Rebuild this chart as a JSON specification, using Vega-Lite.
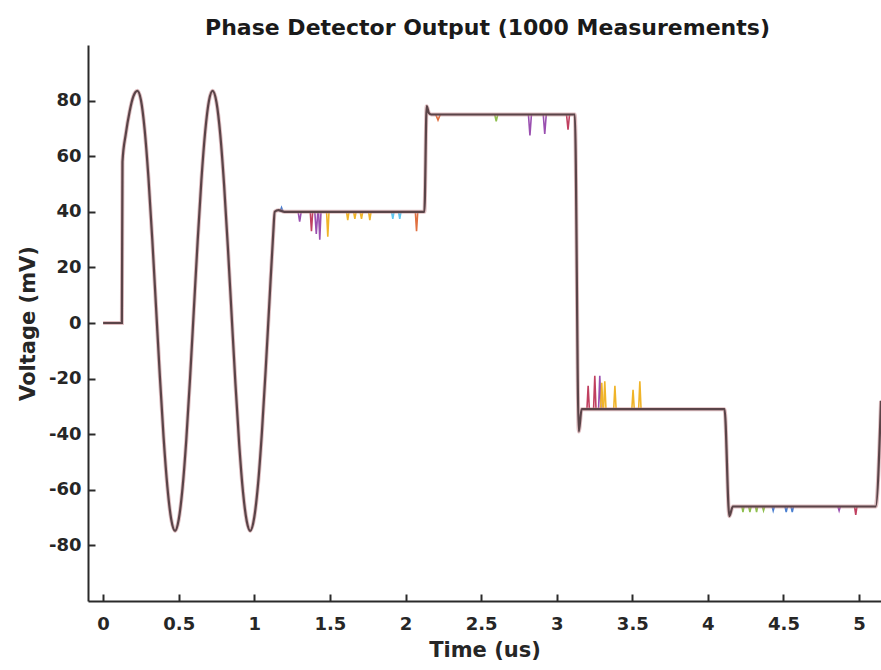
{
  "$schema": "https://vega.github.io/schema/vega-lite/v6.json",
  "width": 793,
  "height": 556,
  "autosize": {"type": "none"},
  "padding": {"left": 88, "top": 45, "right": 0, "bottom": 69},
  "background": "white",
  "title": {"text": "Phase Detector Output (1000 Measurements)", "font": "DejaVu Sans", "fontSize": 22, "fontWeight": "bold", "color": "#1a1a1a", "anchor": "middle", "offset": 5, "dx": 3},
  "config": {"view": {"stroke": null}},
  "data": {"values": [
    {"trace": "mean", "g": "main", "t": 0, "v": 0},
    {"trace": "mean", "g": "main", "t": 0.124, "v": 0},
    {"trace": "mean", "g": "main", "t": 0.128, "v": 58},
    {"trace": "mean", "g": "main", "t": 0.15, "v": 68},
    {"trace": "mean", "g": "main", "t": 0.175, "v": 76},
    {"trace": "mean", "g": "main", "t": 0.2, "v": 81.5},
    {"trace": "mean", "g": "main", "t": 0.227, "v": 83.5},
    {"trace": "mean", "g": "main", "t": 0.25, "v": 80.2},
    {"trace": "mean", "g": "main", "t": 0.275, "v": 69.4},
    {"trace": "mean", "g": "main", "t": 0.3, "v": 52.1},
    {"trace": "mean", "g": "main", "t": 0.325, "v": 30.2},
    {"trace": "mean", "g": "main", "t": 0.35, "v": 5.7},
    {"trace": "mean", "g": "main", "t": 0.375, "v": -18.9},
    {"trace": "mean", "g": "main", "t": 0.4, "v": -41.2},
    {"trace": "mean", "g": "main", "t": 0.425, "v": -58.9},
    {"trace": "mean", "g": "main", "t": 0.45, "v": -70.5},
    {"trace": "mean", "g": "main", "t": 0.476, "v": -74.8},
    {"trace": "mean", "g": "main", "t": 0.5, "v": -70.7},
    {"trace": "mean", "g": "main", "t": 0.525, "v": -59.5},
    {"trace": "mean", "g": "main", "t": 0.55, "v": -42.1},
    {"trace": "mean", "g": "main", "t": 0.575, "v": -19.9},
    {"trace": "mean", "g": "main", "t": 0.6, "v": 4.7},
    {"trace": "mean", "g": "main", "t": 0.625, "v": 29.2},
    {"trace": "mean", "g": "main", "t": 0.65, "v": 51.4},
    {"trace": "mean", "g": "main", "t": 0.675, "v": 68.8},
    {"trace": "mean", "g": "main", "t": 0.7, "v": 79.9},
    {"trace": "mean", "g": "main", "t": 0.724, "v": 83.5},
    {"trace": "mean", "g": "main", "t": 0.75, "v": 79.3},
    {"trace": "mean", "g": "main", "t": 0.775, "v": 67.7},
    {"trace": "mean", "g": "main", "t": 0.8, "v": 49.8},
    {"trace": "mean", "g": "main", "t": 0.825, "v": 27.4},
    {"trace": "mean", "g": "main", "t": 0.85, "v": 2.8},
    {"trace": "mean", "g": "main", "t": 0.875, "v": -21.7},
    {"trace": "mean", "g": "main", "t": 0.9, "v": -43.6},
    {"trace": "mean", "g": "main", "t": 0.925, "v": -60.7},
    {"trace": "mean", "g": "main", "t": 0.95, "v": -71.3},
    {"trace": "mean", "g": "main", "t": 0.973, "v": -74.8},
    {"trace": "mean", "g": "main", "t": 1.0, "v": -69.8},
    {"trace": "mean", "g": "main", "t": 1.025, "v": -57.8},
    {"trace": "mean", "g": "main", "t": 1.05, "v": -39.5},
    {"trace": "mean", "g": "main", "t": 1.075, "v": -17.0},
    {"trace": "mean", "g": "main", "t": 1.1, "v": 7.7},
    {"trace": "mean", "g": "main", "t": 1.125, "v": 32.1},
    {"trace": "mean", "g": "main", "t": 1.135, "v": 40},
    {"trace": "mean", "g": "main", "t": 1.16, "v": 40.6},
    {"trace": "mean", "g": "main", "t": 1.2, "v": 40},
    {"trace": "mean", "g": "main", "t": 2.125, "v": 40},
    {"trace": "mean", "g": "main", "t": 2.14, "v": 78},
    {"trace": "mean", "g": "main", "t": 2.155, "v": 75.5},
    {"trace": "mean", "g": "main", "t": 2.17, "v": 75},
    {"trace": "mean", "g": "main", "t": 3.12, "v": 75},
    {"trace": "mean", "g": "main", "t": 3.146, "v": -39},
    {"trace": "mean", "g": "main", "t": 3.165, "v": -31},
    {"trace": "mean", "g": "main", "t": 4.11, "v": -31},
    {"trace": "mean", "g": "main", "t": 4.142, "v": -69.5},
    {"trace": "mean", "g": "main", "t": 4.165, "v": -66},
    {"trace": "mean", "g": "main", "t": 5.11, "v": -66},
    {"trace": "mean", "g": "main", "t": 5.145, "v": -28},

    {"trace": "run1", "g": "s0", "t": 1.17, "v": 40},
    {"trace": "run1", "g": "s0", "t": 1.18, "v": 41.5},
    {"trace": "run1", "g": "s0", "t": 1.19, "v": 40},
    {"trace": "run4", "g": "s1", "t": 1.29, "v": 40},
    {"trace": "run4", "g": "s1", "t": 1.3, "v": 36.5},
    {"trace": "run4", "g": "s1", "t": 1.31, "v": 40},
    {"trace": "run7", "g": "s2", "t": 1.37, "v": 40},
    {"trace": "run7", "g": "s2", "t": 1.378, "v": 33},
    {"trace": "run7", "g": "s2", "t": 1.386, "v": 40},
    {"trace": "run4", "g": "s3", "t": 1.4, "v": 40},
    {"trace": "run4", "g": "s3", "t": 1.41, "v": 32},
    {"trace": "run4", "g": "s3", "t": 1.42, "v": 40},
    {"trace": "run4", "g": "s4", "t": 1.425, "v": 40},
    {"trace": "run4", "g": "s4", "t": 1.433, "v": 30},
    {"trace": "run4", "g": "s4", "t": 1.441, "v": 40},
    {"trace": "run3", "g": "s5", "t": 1.478, "v": 40},
    {"trace": "run3", "g": "s5", "t": 1.486, "v": 31},
    {"trace": "run3", "g": "s5", "t": 1.494, "v": 40},
    {"trace": "run3", "g": "s6", "t": 1.61, "v": 40},
    {"trace": "run3", "g": "s6", "t": 1.618, "v": 37},
    {"trace": "run3", "g": "s6", "t": 1.626, "v": 40},
    {"trace": "run3", "g": "s7", "t": 1.657, "v": 40},
    {"trace": "run3", "g": "s7", "t": 1.665, "v": 37.5},
    {"trace": "run3", "g": "s7", "t": 1.673, "v": 40},
    {"trace": "run3", "g": "s8", "t": 1.7, "v": 40},
    {"trace": "run3", "g": "s8", "t": 1.709, "v": 37.5},
    {"trace": "run3", "g": "s8", "t": 1.717, "v": 40},
    {"trace": "run3", "g": "s9", "t": 1.756, "v": 40},
    {"trace": "run3", "g": "s9", "t": 1.764, "v": 37},
    {"trace": "run3", "g": "s9", "t": 1.772, "v": 40},
    {"trace": "run6", "g": "s10", "t": 1.908, "v": 40},
    {"trace": "run6", "g": "s10", "t": 1.916, "v": 37.5},
    {"trace": "run6", "g": "s10", "t": 1.924, "v": 40},
    {"trace": "run6", "g": "s11", "t": 1.954, "v": 40},
    {"trace": "run6", "g": "s11", "t": 1.962, "v": 37.5},
    {"trace": "run6", "g": "s11", "t": 1.97, "v": 40},
    {"trace": "run2", "g": "s12", "t": 2.065, "v": 40},
    {"trace": "run2", "g": "s12", "t": 2.073, "v": 33},
    {"trace": "run2", "g": "s12", "t": 2.081, "v": 40},
    {"trace": "run2", "g": "s13", "t": 2.2, "v": 75},
    {"trace": "run2", "g": "s13", "t": 2.215, "v": 73},
    {"trace": "run2", "g": "s13", "t": 2.23, "v": 75},
    {"trace": "run5", "g": "s14", "t": 2.59, "v": 75},
    {"trace": "run5", "g": "s14", "t": 2.6, "v": 72.5},
    {"trace": "run5", "g": "s14", "t": 2.61, "v": 75},
    {"trace": "run4", "g": "s15", "t": 2.813, "v": 75},
    {"trace": "run4", "g": "s15", "t": 2.823, "v": 67.5},
    {"trace": "run4", "g": "s15", "t": 2.833, "v": 75},
    {"trace": "run4", "g": "s16", "t": 2.911, "v": 75},
    {"trace": "run4", "g": "s16", "t": 2.921, "v": 68},
    {"trace": "run4", "g": "s16", "t": 2.931, "v": 75},
    {"trace": "run7", "g": "s17", "t": 3.065, "v": 75},
    {"trace": "run7", "g": "s17", "t": 3.075, "v": 69.5},
    {"trace": "run7", "g": "s17", "t": 3.085, "v": 75},
    {"trace": "run7", "g": "s18", "t": 3.2, "v": -31},
    {"trace": "run7", "g": "s18", "t": 3.208, "v": -22.6},
    {"trace": "run7", "g": "s18", "t": 3.216, "v": -31},
    {"trace": "run7", "g": "s19", "t": 3.244, "v": -31},
    {"trace": "run7", "g": "s19", "t": 3.252, "v": -19},
    {"trace": "run7", "g": "s19", "t": 3.26, "v": -31},
    {"trace": "run4", "g": "s20", "t": 3.277, "v": -31},
    {"trace": "run4", "g": "s20", "t": 3.285, "v": -19},
    {"trace": "run4", "g": "s20", "t": 3.293, "v": -31},
    {"trace": "run3", "g": "s21", "t": 3.29, "v": -31},
    {"trace": "run3", "g": "s21", "t": 3.298, "v": -21.5},
    {"trace": "run3", "g": "s21", "t": 3.306, "v": -31},
    {"trace": "run3", "g": "s22", "t": 3.31, "v": -31},
    {"trace": "run3", "g": "s22", "t": 3.318, "v": -21},
    {"trace": "run3", "g": "s22", "t": 3.326, "v": -31},
    {"trace": "run3", "g": "s23", "t": 3.377, "v": -31},
    {"trace": "run3", "g": "s23", "t": 3.385, "v": -22.6},
    {"trace": "run3", "g": "s23", "t": 3.393, "v": -31},
    {"trace": "run3", "g": "s24", "t": 3.497, "v": -31},
    {"trace": "run3", "g": "s24", "t": 3.505, "v": -24},
    {"trace": "run3", "g": "s24", "t": 3.513, "v": -31},
    {"trace": "run3", "g": "s25", "t": 3.542, "v": -31},
    {"trace": "run3", "g": "s25", "t": 3.55, "v": -21},
    {"trace": "run3", "g": "s25", "t": 3.558, "v": -31},
    {"trace": "run5", "g": "s26", "t": 4.225, "v": -66},
    {"trace": "run5", "g": "s26", "t": 4.232, "v": -68},
    {"trace": "run5", "g": "s26", "t": 4.239, "v": -66},
    {"trace": "run5", "g": "s27", "t": 4.27, "v": -66},
    {"trace": "run5", "g": "s27", "t": 4.278, "v": -68},
    {"trace": "run5", "g": "s27", "t": 4.286, "v": -66},
    {"trace": "run5", "g": "s28", "t": 4.315, "v": -66},
    {"trace": "run5", "g": "s28", "t": 4.322, "v": -68},
    {"trace": "run5", "g": "s28", "t": 4.329, "v": -66},
    {"trace": "run5", "g": "s29", "t": 4.36, "v": -66},
    {"trace": "run5", "g": "s29", "t": 4.368, "v": -67.5},
    {"trace": "run5", "g": "s29", "t": 4.376, "v": -66},
    {"trace": "run1", "g": "s30", "t": 4.425, "v": -66},
    {"trace": "run1", "g": "s30", "t": 4.432, "v": -67.5},
    {"trace": "run1", "g": "s30", "t": 4.44, "v": -66},
    {"trace": "run1", "g": "s31", "t": 4.51, "v": -66},
    {"trace": "run1", "g": "s31", "t": 4.518, "v": -68},
    {"trace": "run1", "g": "s31", "t": 4.526, "v": -66},
    {"trace": "run1", "g": "s32", "t": 4.55, "v": -66},
    {"trace": "run1", "g": "s32", "t": 4.558, "v": -68},
    {"trace": "run1", "g": "s32", "t": 4.566, "v": -66},
    {"trace": "run4", "g": "s33", "t": 4.86, "v": -66},
    {"trace": "run4", "g": "s33", "t": 4.868, "v": -67.5},
    {"trace": "run4", "g": "s33", "t": 4.876, "v": -66},
    {"trace": "run7", "g": "s34", "t": 4.97, "v": -66},
    {"trace": "run7", "g": "s34", "t": 4.978, "v": -69},
    {"trace": "run7", "g": "s34", "t": 4.986, "v": -66}
  ]},
  "encoding": {
    "x": {"field": "t", "type": "quantitative",
      "scale": {"domain": [-0.1, 5.145], "nice": false, "zero": false},
      "axis": {"title": "Time (us)", "values": [0, 0.5, 1, 1.5, 2, 2.5, 3, 3.5, 4, 4.5, 5], "format": ".1~f",
        "grid": false, "tickSize": -7, "tickWidth": 2, "tickColor": "#2a2a2a", "domainColor": "#2a2a2a", "domainWidth": 2,
        "labelFont": "DejaVu Sans", "labelFontWeight": "bold", "labelFontSize": 18, "labelColor": "#262626", "labelPadding": 21,
        "labelFlush": false, "labelOverlap": false,
        "titleFont": "DejaVu Sans", "titleFontWeight": "bold", "titleFontSize": 21, "titleColor": "#262626", "titlePadding": 6}},
    "y": {"field": "v", "type": "quantitative",
      "scale": {"domain": [-100, 100], "nice": false, "zero": false},
      "axis": {"title": "Voltage (mV)", "values": [-80, -60, -40, -20, 0, 20, 40, 60, 80], "labelExpr": "'' + datum.value",
        "grid": false, "tickSize": -7, "tickWidth": 2, "tickColor": "#2a2a2a", "domainColor": "#2a2a2a", "domainWidth": 2,
        "labelFont": "DejaVu Sans", "labelFontWeight": "bold", "labelFontSize": 18, "labelColor": "#262626", "labelPadding": 14,
        "labelFlush": false, "labelOverlap": false,
        "titleFont": "DejaVu Sans", "titleFontWeight": "bold", "titleFontSize": 21, "titleColor": "#262626", "titlePadding": 10}}
  },
  "layer": [
    {"transform": [{"filter": "datum.trace != 'mean'"}],
     "mark": {"type": "line", "strokeWidth": 1.6, "clip": true},
     "encoding": {
       "color": {"field": "trace", "type": "nominal", "legend": null,
         "scale": {"domain": ["run1", "run2", "run3", "run4", "run5", "run6", "run7"],
                   "range": ["#4a7fd0", "#e07040", "#f0b429", "#9a4fb0", "#8fbf4f", "#5fc6f0", "#c04060"]}},
       "detail": {"field": "g", "type": "nominal"}}},
    {"transform": [{"filter": "datum.trace == 'mean'"}],
     "mark": {"type": "line", "strokeWidth": 4, "color": "#c58a8f", "opacity": 0.55, "clip": true, "interpolate": "monotone"},
     "encoding": {}},
    {"transform": [{"filter": "datum.trace == 'mean'"}],
     "mark": {"type": "line", "strokeWidth": 2.2, "color": "#5a4448", "clip": true, "interpolate": "monotone"},
     "encoding": {}}
  ]
}
